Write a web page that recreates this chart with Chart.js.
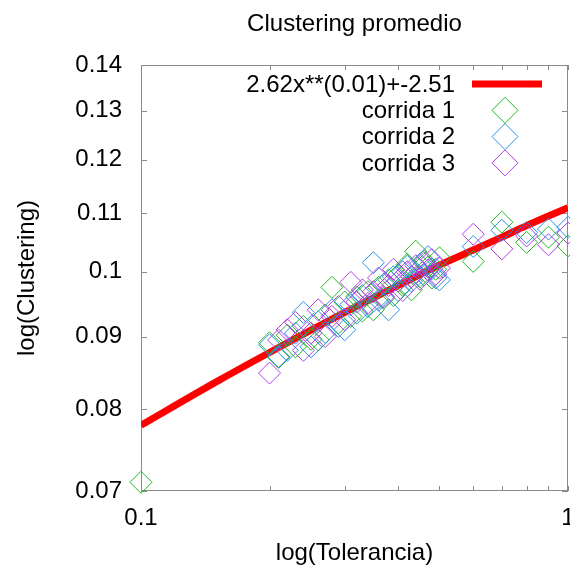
<!DOCTYPE html>
<html>
<head>
<meta charset="utf-8">
<title>Clustering promedio</title>
<script src="https://cdn.jsdelivr.net/npm/chart.js@4.4.1/dist/chart.umd.min.js"></script>
<style>
    html, body { margin: 0; padding: 0; background: #fff; }
    #wrap { width: 570px; height: 569px; }
</style>
</head>
<body>
<div id="wrap"><canvas id="clusteringChart" width="570" height="569"></canvas></div>
<script>
    'use strict';

    // fitted curve
    var ajusteX = [0.1, 0.15, 0.2, 0.3, 0.4, 0.5, 0.6, 0.7, 0.8, 0.9, 1.0];
    var ajusteY = [0.0779, 0.0836, 0.0877, 0.0936, 0.0978, 0.1011, 0.1036, 0.1058, 0.1078, 0.1095, 0.1110];

    // tolerance values of the runs
    var toleranciaC1 = [0.1, 0.2, 0.21, 0.22, 0.23, 0.24, 0.25, 0.26, 0.27, 0.28, 0.29, 0.3, 0.31, 0.32, 0.33, 0.34, 0.35,
        0.36, 0.37, 0.38, 0.39, 0.4, 0.41, 0.42, 0.43, 0.44, 0.45, 0.46, 0.47, 0.48, 0.49, 0.5, 0.6, 0.7, 0.8, 0.9, 1.0];
    var tolerancia = [0.2, 0.21, 0.22, 0.23, 0.24, 0.25, 0.26, 0.27, 0.28, 0.29, 0.3, 0.31, 0.32, 0.33, 0.34, 0.35,
        0.36, 0.37, 0.38, 0.39, 0.4, 0.41, 0.42, 0.43, 0.44, 0.45, 0.46, 0.47, 0.48, 0.49, 0.5, 0.6, 0.7, 0.8, 0.9, 1.0];

    var corrida1 = [0.0710, 0.0891, 0.0870, 0.0902, 0.0885, 0.0915, 0.0896, 0.0895, 0.0932, 0.0975, 0.0920, 0.0952,
        0.0930, 0.0960, 0.0938, 0.0968, 0.0940, 0.0975, 0.0958, 0.0987, 0.0962, 0.0995, 0.0978, 0.1012, 0.0971,
        0.1034, 0.0992, 0.1018, 0.1008, 0.0990, 0.1004, 0.1023, 0.1017, 0.1084, 0.1049, 0.1058, 0.1043];
    var corrida2 = [0.0888, 0.0871, 0.0880, 0.0905, 0.0936, 0.0885, 0.0922, 0.0906, 0.0940, 0.0915, 0.0910,
        0.0948, 0.0935, 0.0962, 0.0945, 0.1015, 0.0955, 0.0980, 0.0940, 0.0992, 0.0970, 0.1000, 0.1009, 0.0985,
        0.0998, 0.1012, 0.0995, 0.1025, 0.1005, 0.0990, 0.0987, 0.1042, 0.1070, 0.1066, 0.1072, 0.1075];
    var corrida3 = [0.0848, 0.0895, 0.0910, 0.0921, 0.0880, 0.0905, 0.0940, 0.0900, 0.0930, 0.0945, 0.0925,
        0.0983, 0.0952, 0.0971, 0.0950, 0.0968, 0.0990, 0.0960, 0.0978, 0.1004, 0.0985, 0.0970, 0.1000, 0.0992,
        0.1010, 0.0988, 0.1015, 0.1003, 0.1020, 0.0996, 0.1006, 0.1063, 0.1038, 0.1060, 0.1045, 0.1065];

    var xTicks = [0.1, 0.2, 0.3, 0.4, 0.5, 0.6, 0.7, 0.8, 0.9, 1.0];
    var xTickLabels = ['0.1', '', '', '', '', '', '', '', '', '1'];
    var yTicks = [0.07, 0.08, 0.09, 0.1, 0.11, 0.12, 0.13, 0.14];
    var yTickLabels = ['0.07', '0.08', '0.09', '0.1', '0.11', '0.12', '0.13', '0.14'];

    var FONT = '"Liberation Sans", Arial, sans-serif';
    var FONT_SIZE = 24;

    function toPoints(xs, ys) {
        return xs.map(function (x, i) {
            return {x: x, y: ys[i]};
        });
    }

    function runSet(label, color, xs, ys, order) {
        return {
            label: label,
            data: toPoints(xs, ys),
            order: order,
            showLine: false,
            pointStyle: 'rectRot',
            pointRadius: 11,
            pointHoverRadius: 11,
            pointBorderWidth: 1,
            borderColor: color,
            backgroundColor: 'rgba(0,0,0,0)',
            clip: false
        };
    }

    // gnuplot style box with inward ticks and the legend in the top right corner
    var gnuplotFrame = {
        id: 'gnuplotFrame',
        beforeDatasetsDraw: function (chart) {
            var ctx = chart.ctx;
            var a = chart.chartArea;
            var xs = chart.scales.x;
            var ys = chart.scales.y;
            ctx.save();
            ctx.strokeStyle = '#8a8a8a';
            ctx.lineWidth = 1;
            ctx.beginPath();
            xs.ticks.forEach(function (t) {
                var px = Math.round(xs.getPixelForValue(t.value)) + 0.5;
                ctx.moveTo(px, a.bottom);
                ctx.lineTo(px, a.bottom - 5);
                ctx.moveTo(px, a.top);
                ctx.lineTo(px, a.top + 5);
            });
            ys.ticks.forEach(function (t) {
                var py = Math.round(ys.getPixelForValue(t.value)) + 0.5;
                ctx.moveTo(a.left, py);
                ctx.lineTo(a.left + 6, py);
                ctx.moveTo(a.right, py);
                ctx.lineTo(a.right - 6, py);
            });
            ctx.stroke();
            ctx.strokeRect(Math.round(a.left) + 0.5, Math.round(a.top) + 0.5,
                Math.round(a.right - a.left) - 1, Math.round(a.bottom - a.top) - 1);
            ctx.restore();
        },
        afterDraw: function (chart) {
            var ctx = chart.ctx;
            var textRight = 455;
            var sampleX = 505;
            var rowY = 84;
            var rowStep = 26.3;
            ctx.save();
            ctx.font = FONT_SIZE + 'px ' + FONT;
            ctx.fillStyle = '#000';
            ctx.textAlign = 'right';
            ctx.textBaseline = 'middle';
            chart.data.datasets.forEach(function (ds, i) {
                var y = rowY + i * rowStep;
                ctx.fillText(ds.label, textRight, y + 1);
                ctx.beginPath();
                if (ds.showLine) {
                    ctx.strokeStyle = ds.borderColor;
                    ctx.lineWidth = ds.borderWidth;
                    ctx.moveTo(472, y);
                    ctx.lineTo(542, y);
                } else {
                    ctx.strokeStyle = ds.borderColor;
                    ctx.lineWidth = 1;
                    ctx.moveTo(sampleX - 13, y);
                    ctx.lineTo(sampleX, y - 13);
                    ctx.lineTo(sampleX + 13, y);
                    ctx.lineTo(sampleX, y + 13);
                    ctx.closePath();
                }
                ctx.stroke();
            });
            ctx.restore();
        }
    };

    var ctx = document.getElementById('clusteringChart').getContext('2d');
    var chart = new Chart(ctx, {
        type: 'scatter',
        data: {
            datasets: [
                {
                    label: '2.62x**(0.01)+-2.51',
                    data: toPoints(ajusteX, ajusteY),
                    order: 4,
                    showLine: true,
                    borderColor: '#ff0000',
                    backgroundColor: '#ff0000',
                    borderWidth: 7,
                    pointRadius: 0,
                    pointHoverRadius: 0,
                    cubicInterpolationMode: 'monotone'
                },
                runSet('corrida 1', '#22b822', toleranciaC1, corrida1, 3),
                runSet('corrida 2', '#2a8fe8', tolerancia, corrida2, 2),
                runSet('corrida 3', '#b43ee6', tolerancia, corrida3, 1)
            ]
        },
        options: {
            responsive: false,
            animation: false,
            events: [],
            layout: {padding: {right: 2}, autoPadding: false},
            font: {family: FONT, size: FONT_SIZE},
            color: '#000',
            plugins: {
                legend: {display: false},
                tooltip: {enabled: false},
                title: {
                    display: true,
                    fullSize: false,
                    text: 'Clustering promedio',
                    color: '#000',
                    font: {family: FONT, size: FONT_SIZE, weight: 'normal'},
                    padding: {top: 10, bottom: 26.2}
                }
            },
            scales: {
                x: {
                    type: 'logarithmic',
                    position: 'bottom',
                    min: 0.1,
                    max: 1,
                    grid: {display: false, drawTicks: false},
                    border: {display: false},
                    afterBuildTicks: function (scale) {
                        scale.ticks = xTicks.map(function (v) {
                            return {value: v};
                        });
                    },
                    afterFit: function (scale) {
                        scale.height = 78;
                        scale.paddingLeft = 0;
                        scale.paddingRight = 0;
                    },
                    ticks: {
                        autoSkip: false,
                        maxRotation: 0,
                        padding: 13,
                        color: '#000',
                        font: {family: FONT, size: FONT_SIZE},
                        callback: function (value, index) {
                            return xTickLabels[index];
                        }
                    },
                    title: {
                        display: true,
                        text: 'log(Tolerancia)',
                        color: '#000',
                        font: {family: FONT, size: FONT_SIZE},
                        padding: {top: 0, bottom: 1}
                    }
                },
                y: {
                    type: 'logarithmic',
                    position: 'left',
                    min: 0.07,
                    max: 0.14,
                    grid: {display: false, drawTicks: false},
                    border: {display: false},
                    afterBuildTicks: function (scale) {
                        scale.ticks = yTicks.map(function (v) {
                            return {value: v};
                        });
                    },
                    afterFit: function (scale) {
                        scale.width = 141;
                    },
                    ticks: {
                        autoSkip: false,
                        padding: 19,
                        color: '#000',
                        font: {family: FONT, size: FONT_SIZE},
                        callback: function (value, index) {
                            return yTickLabels[index];
                        }
                    },
                    title: {
                        display: true,
                        text: 'log(Clustering)',
                        color: '#000',
                        font: {family: FONT, size: FONT_SIZE},
                        padding: {top: 12.5, bottom: 0}
                    }
                }
            }
        },
        plugins: [gnuplotFrame]
    });
</script>
</body>
</html>
